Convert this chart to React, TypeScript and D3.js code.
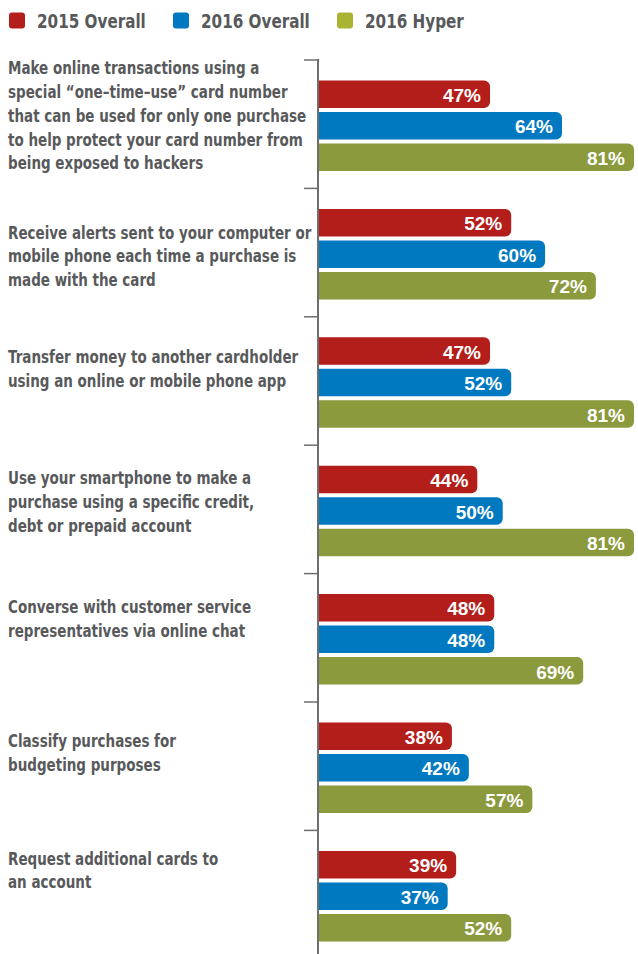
import React from "react";
import * as d3 from "d3";

const series = ["2015 Overall", "2016 Overall", "2016 Hyper"];
const categories = [
  ["Make online transactions using a", "special \u201cone\u2013time\u2013use\u201d card number", "that can be used for only one purchase", "to help protect your card number from", "being exposed to hackers"],
  ["Receive alerts sent to your computer or", "mobile phone each time a purchase is", "made with the card"],
  ["Transfer money to another cardholder", "using an online or mobile phone app"],
  ["Use your smartphone to make a", "purchase using a specific credit,", "debt or prepaid account"],
  ["Converse with customer service", "representatives via online chat"],
  ["Classify purchases for", "budgeting purposes"],
  ["Request additional cards to", "an account"],
];
const values2015 = [47, 52, 47, 44, 48, 38, 39];
const values2016 = [64, 60, 52, 50, 48, 42, 37];
const valuesHyper = [81, 72, 81, 81, 69, 57, 52];

const barColors = ["#B31D1A", "#0079C1", "#8A9A3C"];
const legendColors = ["#B31D1A", "#0079C1", "#A9B532"];
// layout: first-line offset of each label from its group top
const labelOffsets = [8, 44, 40, 33, 33, 39, 28];

const W = 638;
const H = 954;
const AXIS_X = 318;
const TOP = 60;
const GROUP_H = 128.4;

export default function App() {
  const ids = categories.map((_, i) => `c${i}`);
  const y = d3.scaleBand<string>().domain(ids).range([TOP, TOP + GROUP_H * ids.length]).padding(0);
  const inner = d3.scaleBand<string>().domain(series).range([20.5, 111]).paddingInner(0.127).paddingOuter(0);
  const x = d3.scaleLinear().domain([0, 81]).range([291, 634]);
  const data = [values2015, values2016, valuesHyper];

  const barPath = (x0: number, x1: number, y0: number, h: number, r: number) => {
    const p = d3.path();
    p.moveTo(x0, y0);
    p.lineTo(x1 - r, y0);
    p.arcTo(x1, y0, x1, y0 + r, r);
    p.lineTo(x1, y0 + h - r);
    p.arcTo(x1, y0 + h, x1 - r, y0 + h, r);
    p.lineTo(x0, y0 + h);
    p.closePath();
    return p.toString();
  };

  const legendX = [9, 173, 337];
  const labelFont = "'DejaVu Sans', sans-serif";

  return (
    <svg width={W} height={H} style={{ position: "absolute", left: 0, top: 0, background: "#fff" }}>
      {/* legend */}
      {series.map((s, i) => (
        <g key={s}>
          <rect x={legendX[i]} y={12.5} width={16} height={16} rx={3} fill={legendColors[i]} />
          <text transform={`translate(${legendX[i] + 28},21) scale(0.76,1)`} dy="0.35em" fontFamily={labelFont} fontWeight="bold" fontSize={20} fill="#58595B">
            {s}
          </text>
        </g>
      ))}
      {/* axis */}
      <line x1={AXIS_X} x2={AXIS_X} y1={TOP - 1} y2={H} stroke="#6D6E70" strokeWidth={2} />
      {ids.map((id) => (
        <line key={id} x1={304} x2={AXIS_X} y1={y(id)!} y2={y(id)!} stroke="#6D6E70" strokeWidth={1.5} />
      ))}
      {/* labels */}
      {categories.map((lines, i) => (
        <text key={i} transform="translate(8,0) scale(0.75,1)" fontFamily={labelFont} fontWeight="bold" fontSize={18} fill="#58595B">
          {lines.map((ln, j) => (
            <tspan key={j} x={0} y={y(ids[i])! + labelOffsets[i] + j * 23.8} dy="0.35em">
              {ln}
            </tspan>
          ))}
        </text>
      ))}
      {/* bars */}
      {ids.map((id, i) =>
        series.map((s, k) => {
          const v = data[k][i];
          const y0 = y(id)! + inner(s)!;
          const h = inner.bandwidth();
          const x1 = x(v);
          return (
            <g key={id + s}>
              <path d={barPath(AXIS_X + 1, x1, y0, h, 6)} fill={barColors[k]} />
              <text x={x1 - 9} y={y0 + h / 2 + 1} dy="0.35em" textAnchor="end" fontFamily="'Liberation Sans', Arial, sans-serif" fontWeight="bold" fontSize={19} fill="#fff">
                {v}%
              </text>
            </g>
          );
        })
      )}
    </svg>
  );
}
